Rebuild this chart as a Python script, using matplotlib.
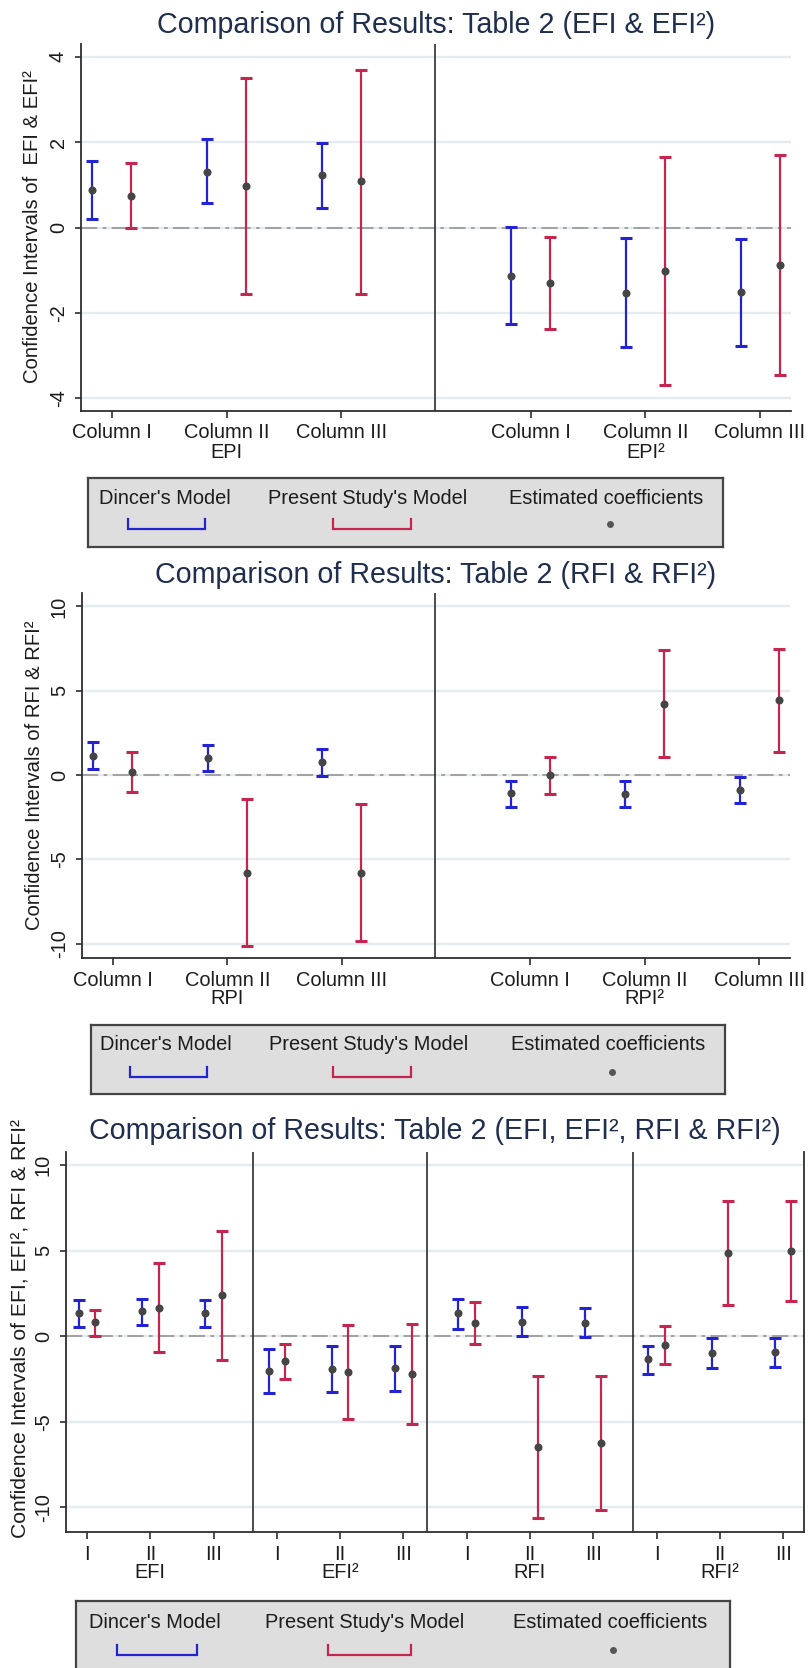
import matplotlib
matplotlib.use('Agg')
import matplotlib.pyplot as plt
import numpy as np

plt.rcParams['font.family'] = ['Liberation Sans', 'DejaVu Sans']

# ---------------- data ----------------
# Panel 1: EFI & EFI²  (EPI: Column I-III, EPI²: Column I-III)
p1_dincer_est = [0.89, 1.31, 1.23, -1.13, -1.54, -1.52]
p1_dincer_lo = [0.20, 0.57, 0.46, -2.27, -2.81, -2.77]
p1_dincer_hi = [1.57, 2.07, 1.99, 0.02, -0.25, -0.28]
p1_present_est = [0.74, 0.98, 1.09, -1.29, -1.02, -0.88]
p1_present_lo = [-0.02, -1.55, -1.56, -2.38, -3.70, -3.45]
p1_present_hi = [1.51, 3.51, 3.70, -0.22, 1.66, 1.70]
p1_xticklabels = ['Column I', 'Column II\nEPI', 'Column III',
                  'Column I', 'Column II\nEPI²', 'Column III']
p1_yticks = [-4, -2, 0, 2, 4]
p1_yticklabels = ['-4', '-2', '0', '2', '4']

# Panel 2: RFI & RFI²
p2_dincer_est = [1.15, 1.01, 0.77, -1.09, -1.13, -0.87]
p2_dincer_lo = [0.36, 0.26, -0.06, -1.88, -1.88, -1.66]
p2_dincer_hi = [1.94, 1.76, 1.52, -0.36, -0.36, -0.14]
p2_present_est = [0.18, -5.79, -5.79, 0.00, 4.23, 4.43]
p2_present_lo = [-0.99, -10.14, -9.86, -1.13, 1.05, 1.36]
p2_present_hi = [1.34, -1.44, -1.72, 1.07, 7.41, 7.49]
p2_xticklabels = ['Column I', 'Column II\nRPI', 'Column III',
                  'Column I', 'Column II\nRPI²', 'Column III']
p2_yticks = [-10, -5, 0, 5, 10]
p2_yticklabels = ['-10', '-5', '0', '5', '10']

# Panel 3: EFI, EFI², RFI & RFI²
p3_dincer_est = [1.33, 1.44, 1.36, -2.05, -1.93, -1.89, 1.33, 0.84, 0.76, -1.35, -1.01, -0.92]
p3_dincer_lo = [0.55, 0.64, 0.55, -3.31, -3.27, -3.20, 0.43, -0.02, -0.08, -2.20, -1.89, -1.79]
p3_dincer_hi = [2.11, 2.16, 2.11, -0.78, -0.60, -0.60, 2.18, 1.72, 1.64, -0.57, -0.12, -0.12]
p3_present_est = [0.80, 1.66, 2.38, -1.46, -2.09, -2.20, 0.76, -6.47, -6.22, -0.53, 4.87, 4.99]
p3_present_lo = [0.02, -0.94, -1.42, -2.48, -4.85, -5.13, -0.45, -10.64, -10.14, -1.64, 1.79, 2.07]
p3_present_hi = [1.52, 4.25, 6.16, -0.49, 0.64, 0.72, 1.97, -2.32, -2.32, 0.57, 7.91, 7.88]
p3_xticklabels = ['I', 'II\nEFI', 'III', 'I', 'II\nEFI²', 'III',
                  'I', 'II\nRFI', 'III', 'I', 'II\nRFI²', 'III']
p3_yticks = [-10, -5, 0, 5, 10]
p3_yticklabels = ['-10', '-5', '0', '5', '10']

titles = ['Comparison of Results: Table 2 (EFI & EFI²)',
          'Comparison of Results: Table 2 (RFI & RFI²)',
          'Comparison of Results: Table 2 (EFI, EFI², RFI & RFI²)']
ylabels = ['Confidence Intervals of  EFI & EFI²',
           'Confidence Intervals of RFI & RFI²',
           'Confidence Intervals of EFI, EFI², RFI & RFI²']
legend_labels = ["Dincer's Model", "Present Study's Model", 'Estimated coefficients']

# ---------------- style / layout ----------------
W, H, DPI = 808, 1668, 100
BLUE = '#2323d2'
RED = '#c4264f'
DOT = '#454545'
GRID = '#e5ecef'
TITLE_C = '#1f2e4e'
SPINE = '#2e2e2e'
TXT = '#1c1c1c'
FS = 14.4

fig = plt.figure(figsize=(W / DPI, H / DPI), dpi=DPI)
fig.patch.set_facecolor('white')


def px_axes(x0, y0, x1, y1):
    return fig.add_axes([x0 / W, 1 - y1 / H, (x1 - x0) / W, (y1 - y0) / H])


def draw_panel(box, xs, off, xlim, ylim, dividers, data, xticklabels, yticks,
               yticklabels, title, title_y, ylabel, ylabel_xy, ylabel_fs=14.6,
               right_spine=False):
    d_est, d_lo, d_hi, p_est, p_lo, p_hi = [np.asarray(a, float) for a in data]
    ax = px_axes(*box)
    ax.set_xlim(*xlim)
    ax.set_ylim(*ylim)
    ax.set_axisbelow(True)
    ax.yaxis.grid(True, color=GRID, lw=1.7)
    ax.axhline(0, color='#9c9c9c', lw=1.3, ls=(0, (9, 3, 2, 3)), zorder=1)
    for d in dividers:
        ax.axvline(d, color=SPINE, lw=1.2, zorder=2)
    xs = np.asarray(xs, float)
    ax.errorbar(xs - off, d_est, yerr=[d_est - d_lo, d_hi - d_est], fmt='none',
                ecolor=BLUE, elinewidth=1.6, capsize=4, capthick=2.2, zorder=3)
    ax.errorbar(xs + off, p_est, yerr=[p_est - p_lo, p_hi - p_est], fmt='none',
                ecolor=RED, elinewidth=1.6, capsize=4, capthick=2.2, zorder=3)
    ax.plot(xs - off, d_est, 'o', color=DOT, ms=5.8, zorder=4, mec='none')
    ax.plot(xs + off, p_est, 'o', color=DOT, ms=5.8, zorder=4, mec='none')

    ax.set_xticks(xs)
    ax.set_xticklabels(xticklabels, fontsize=FS, color=TXT)
    for lbl in ax.get_xticklabels():
        lbl.set_linespacing(1.0)
    ax.set_yticks(yticks)
    ax.set_yticklabels(yticklabels, fontsize=FS, color=TXT, rotation=90, va='center')
    ax.tick_params(axis='x', length=5, width=1.2, color=SPINE, pad=4)
    ax.tick_params(axis='y', length=4.5, width=1.2, color=SPINE, pad=5)
    for s in ['top', 'right']:
        ax.spines[s].set_visible(False)
    if right_spine:
        ax.spines['right'].set_visible(True)
    for s in ['left', 'bottom', 'right']:
        ax.spines[s].set_color(SPINE)
        ax.spines[s].set_linewidth(1.3)
    cx = (box[0] + box[2]) / 2
    fig.text(cx / W, 1 - title_y / H, title, ha='center', va='center',
             fontsize=20.6, color=TITLE_C)
    fig.text(ylabel_xy[0] / W, 1 - ylabel_xy[1] / H, ylabel, rotation=90,
             ha='center', va='center', fontsize=ylabel_fs, color=TXT)
    return ax


def draw_legend(box, text_y, br_y0, br_y1, text_x, blue_br, red_br, dot_x):
    lax = px_axes(*box)
    lax.set_xlim(box[0], box[2])
    lax.set_ylim(box[3], box[1])
    lax.set_facecolor('#dedede')
    lax.set_xticks([])
    lax.set_yticks([])
    for sp in lax.spines.values():
        sp.set_color('#444444')
        sp.set_linewidth(1.6)
    for tx, lab in zip(text_x, legend_labels):
        lax.text(tx, text_y, lab, ha='center', va='center', fontsize=FS, color=TXT)
    for (bx0, bx1), col in [(blue_br, BLUE), (red_br, RED)]:
        lax.plot([bx0, bx0, bx1, bx1], [br_y0, br_y1, br_y1, br_y0], color=col,
                 lw=1.6, solid_joinstyle='miter')
    lax.plot([dot_x], [(br_y0 + br_y1) / 2], 'o', color='#555555', ms=5, mec='none')


xs6 = [1, 2, 3, 4.65, 5.65, 6.65]
xs12 = list(range(1, 13))

draw_panel((81, 44, 791, 411), xs6, 0.17, (0.73, 6.92), (-4.3, 4.3), [3.82],
           [p1_dincer_est, p1_dincer_lo, p1_dincer_hi, p1_present_est, p1_present_lo, p1_present_hi],
           p1_xticklabels, p1_yticks, p1_yticklabels, titles[0], 25, ylabels[0], (33, 227))
draw_legend((88, 478, 723, 547), 498, 519, 529, [165, 368, 606], (128, 205), (333, 411), 610)

draw_panel((82, 593, 790, 958), xs6, 0.17, (0.73, 6.92), (-10.85, 10.8), [3.82],
           [p2_dincer_est, p2_dincer_lo, p2_dincer_hi, p2_present_est, p2_present_lo, p2_present_hi],
           p2_xticklabels, p2_yticks, p2_yticklabels, titles[1], 575, ylabels[1], (35, 775))
draw_legend((91, 1025, 725, 1094), 1045, 1067, 1077, [166, 369, 608], (130, 207), (333, 411), 612)

draw_panel((66, 1152, 804, 1532), xs12, 0.13, (0.668, 12.33), (-11.45, 10.76), [3.62, 6.37, 9.62],
           [p3_dincer_est, p3_dincer_lo, p3_dincer_hi, p3_present_est, p3_present_lo, p3_present_hi],
           p3_xticklabels, p3_yticks, p3_yticklabels, titles[2], 1131, ylabels[2], (20, 1328),
           ylabel_fs=15.2, right_spine=True)
draw_legend((76, 1601, 730, 1680), 1622, 1645, 1655, [155, 365, 610], (117, 197), (328, 411), 613)

fig.savefig('out.png', dpi=DPI, facecolor='white')
